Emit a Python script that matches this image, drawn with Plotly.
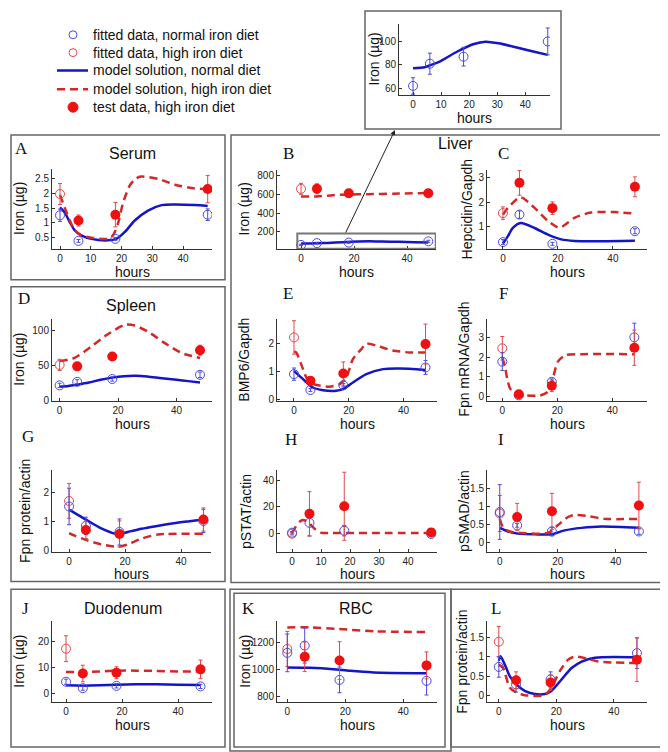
import plotly.graph_objects as go

# ---------------- DATA ----------------
T_PTS = [0, 6, 18, 48]
T_ZERO = [0]
T_TEST = [6, 18, 48]

# A  Serum iron
A_norm = [1.25, 0.37, 0.44, 1.27]; A_norm_err = [0.21, 0.05, 0.05, 0.2]
A_hfit = [1.98]; A_hfit_err = [0.36]
A_test = [1.07, 1.27, 2.15]; A_test_err = [0.19, 0.42, 0.47]
A_tn = [0, 1.5, 3.2, 4.8, 6.9, 10.2, 15.6, 18.3, 21, 24.3, 28.6, 33, 37.3, 43.8, 48]
A_mn = [1.52, 1.35, 1.01, 0.73, 0.56, 0.44, 0.39, 0.44, 0.67, 1.07, 1.41, 1.6, 1.62, 1.6, 1.57]
A_th = [0, 1.5, 3.2, 4.8, 6.9, 10.2, 15.6, 17.2, 18.8, 20.4, 22.6, 24.5, 26.3, 31.9, 37.3, 43.8, 48]
A_mh = [1.95, 1.52, 1.07, 0.73, 0.56, 0.48, 0.44, 0.56, 0.95, 1.64, 2.26, 2.5, 2.58, 2.5, 2.3, 2.17, 2.15]

# B  Liver iron
B_norm = [62, 81, 87, 100]; B_norm_err = [7, 9, 8, 11.5]
B_hfit = [657]; B_hfit_err = [58]
B_test = [657, 611, 611]; B_test_err = [53, 40, 35]
B_tn = [0, 4.1, 5.9, 10, 15.8, 21.7, 25.8, 30.5, 37, 42.8, 48]
B_mn = [77, 78, 79.5, 83.5, 91.4, 97.8, 99.8, 98.4, 94.8, 91.4, 88.5]
B_th = [0, 6, 12, 18, 25, 35, 48]
B_mh = [576, 576, 590, 597, 600, 606, 612]

# C  Hepcidin
C_norm = [0.39, 1.5, 0.32, 0.83]; C_norm_err = [0.1, 0.15, 0.06, 0.1]
C_hfit = [1.56]; C_hfit_err = [0.25]
C_test = [2.78, 1.76, 2.62]; C_test_err = [0.5, 0.25, 0.4]
C_tn = [0, 1.8, 3.6, 6.4, 11.5, 16.4, 21.2, 26, 34.5, 48]
C_mn = [0.33, 0.63, 0.96, 1.16, 0.96, 0.69, 0.5, 0.44, 0.43, 0.45]
C_th = [0, 1.8, 6.4, 11.5, 16.4, 20.6, 26, 32, 40.6, 48]
C_mh = [1.5, 1.77, 2.2, 1.77, 1.24, 0.97, 1.37, 1.58, 1.6, 1.54]

# D  Spleen iron
D_norm = [22, 27, 31, 37]; D_norm_err = [3, 3, 3, 4]
D_hfit = [51]; D_hfit_err = [8]
D_test = [49, 63, 72]; D_test_err = [4, 5, 7]
D_tn = [0, 3, 6, 10, 14, 18, 22, 26, 30, 35, 40, 44, 48]
D_mn = [20, 21, 23, 26, 30, 33, 35, 35.5, 34.5, 32, 30, 28, 26]
D_th = [0, 5.1, 10.8, 16.6, 22.3, 25.7, 30.3, 36, 41.7, 48]
D_mh = [56.6, 61, 77, 95, 108, 107, 98, 82, 68, 61]

# E  BMP6
E_norm = [0.9, 0.33, 0.5, 1.14]; E_norm_err = [0.22, 0.05, 0.06, 0.25]
E_hfit = [2.22]; E_hfit_err = [0.6]
E_test = [0.66, 0.92, 1.98]; E_test_err = [0.1, 0.42, 0.72]
E_tn = [0, 3.3, 6.9, 10.6, 15.4, 17.9, 21.5, 26.4, 32.5, 38.6, 48]
E_mn = [1.02, 0.72, 0.42, 0.32, 0.3, 0.36, 0.6, 0.9, 1.08, 1.1, 1.05]
E_th = [0, 0.8, 2.6, 4.5, 6.3, 9.3, 13, 16.7, 19.1, 21.5, 24.6, 26.4, 29.9, 36, 42.1, 48]
E_mh = [1.72, 1.68, 1.26, 0.78, 0.57, 0.49, 0.45, 0.54, 0.78, 1.44, 1.8, 2.0, 1.93, 1.75, 1.68, 1.68]

# F  Fpn mRNA
F_norm = [1.78, 0.06, 0.75, 3.02]; F_norm_err = [0.45, 0.04, 0.15, 0.72]
F_hfit = [2.46]; F_hfit_err = [0.6]
F_test = [0.12, 0.55, 2.49]; F_test_err = [0.06, 0.3, 0.9]
F_th = [0, 1, 1.8, 2.7, 4, 5.5, 8.8, 13.6, 16.6, 18.4, 20.2, 23.2, 29.3, 48]
F_mh = [2.0, 1.5, 0.9, 0.45, 0.2, 0.1, 0.05, 0.05, 0.25, 0.93, 1.78, 2.12, 2.16, 2.16]

# G  Spleen Fpn protein
G_norm = [1.53, 0.86, 0.65, 1.03]; G_norm_err = [0.63, 0.3, 0.45, 0.4]
G_hfit = [1.72]; G_hfit_err = [0.6]
G_test = [0.72, 0.58, 1.08]; G_test_err = [0.3, 0.45, 0.4]
G_tn = [0, 3, 6.8, 11.5, 15, 17.5, 21, 25.9, 31, 37.4, 43, 48]
G_mn = [1.42, 1.25, 1.03, 0.77, 0.63, 0.57, 0.65, 0.76, 0.85, 0.95, 1.02, 1.08]
G_th = [0, 2, 6.8, 11.5, 17.5, 21, 25.9, 31.8, 48]
G_mh = [0.61, 0.52, 0.35, 0.22, 0.14, 0.22, 0.42, 0.56, 0.59]

# H  pSTAT
H_norm = [0.3, 7.8, 1.8, -0.7]; H_norm_err = [1, 10, 4, 1]
H_hfit = [-0.5]; H_hfit_err = [1]
H_test = [14.7, 20.5, 0.5]; H_test_err = [17, 26, 1]
H_th = [0, 1, 2.5, 3.8, 5.5, 7.8, 9.8, 14, 20, 30, 48]
H_mh = [0, 4, 8.5, 10, 8.4, 3.3, 0.3, 0, 0, 0, 0]

# I  pSMAD
I_norm = [0.84, 0.47, 0.3, 0.3]; I_norm_err = [0.76, 0.05, 0.12, 0.08]
I_hfit = [0.8]; I_hfit_err = [0.5]
I_test = [0.7, 0.86, 1.02]; I_test_err = [0.38, 0.5, 0.65]
I_tn = [0, 2.9, 6.3, 12.1, 17.8, 22.4, 28.2, 35.1, 48]
I_mn = [0.4, 0.3, 0.24, 0.22, 0.22, 0.33, 0.4, 0.44, 0.4]
I_th = [0, 1.1, 3.4, 7.4, 16.6, 20, 23.5, 25.8, 30.4, 36.2, 48]
I_mh = [0.65, 0.42, 0.3, 0.26, 0.26, 0.47, 0.7, 0.76, 0.73, 0.65, 0.65]

# J  Duodenum iron
J_norm = [4.5, 2.0, 2.9, 2.7]; J_norm_err = [1.0, 0.8, 0.8, 0.8]
J_hfit = [17.3]; J_hfit_err = [5]
J_test = [7.7, 8.0, 9.3]; J_test_err = [3.2, 2.3, 3.6]
J_tn = [0, 6, 12, 18, 25, 32, 40, 48]
J_mn = [3.1, 3.0, 3.1, 3.3, 3.5, 3.5, 3.3, 3.2]
J_th = [0, 6, 12, 18, 25, 32, 40, 48]
J_mh = [8.3, 8.2, 8.5, 8.8, 8.8, 8.7, 8.5, 8.5]

# K  RBC iron
K_norm = [1123, 1177, 922, 915]; K_norm_err = [140, 130, 95, 105]
K_hfit = [1152]; K_hfit_err = [130]
K_test = [1094, 1066, 1030]; K_test_err = [110, 140, 100]
K_tn = [0, 7.7, 15.9, 21.6, 29.7, 48]
K_mn = [1015, 1012, 1002, 990, 978, 972]
K_th = [0, 8, 18, 30, 48]
K_mh = [1312, 1312, 1300, 1283, 1278]

# L  Duodenum Fpn protein
L_norm = [0.74, 0.28, 0.41, 1.1]; L_norm_err = [0.27, 0.2, 0.2, 0.4]
L_hfit = [1.4]; L_hfit_err = [0.4]
L_test = [0.39, 0.33, 0.93]; L_test_err = [0.22, 0.2, 0.57]
L_tn = [0, 0.6, 2.1, 3.8, 6.1, 9, 12.5, 16, 18.3, 21.8, 25.3, 28.8, 33.4, 48]
L_mn = [0.9, 1.02, 0.8, 0.5, 0.28, 0.11, 0.03, 0.03, 0.11, 0.41, 0.71, 0.88, 0.98, 0.99]
L_th = [0, 1.5, 3.8, 6.1, 9, 16, 18.3, 21.2, 24.1, 26.4, 31, 34.5, 48]
L_mh = [0.8, 0.71, 0.2, 0.07, 0.0, 0.0, 0.2, 0.63, 0.93, 1.01, 0.95, 0.88, 0.84]

LEGEND_NAMES = ["fitted data, normal iron diet", "fitted data, high iron diet",
                "model solution, normal diet", "model solution, high iron diet",
                "test data, high iron diet"]

# ---------------- STYLE / LAYOUT ----------------
W, H = 668, 752
def px(x): return x / W
def py(y): return 1 - y / H

BLUE_LINE = '#1414c8'
RED_LINE = '#d42828'
BLUE_PT = '#4a4ae0'
RED_PT = '#e04a4a'
RED_FILL = '#f01010'
FONT = 'Liberation Sans, Arial, sans-serif'
SERIF = 'Liberation Serif, Times New Roman, serif'

PANELS = [
    dict(key='A', d=(A_norm, A_norm_err, A_hfit, A_hfit_err, A_test, A_test_err), mn=(A_tn, A_mn), mh=(A_th, A_mh),
         box=(44, 204, 162, 243), xr=[-2.6, 49.4], yr=[0.09, 2.85], xt=[0, 10, 20, 30, 40], yt=[0.5, 1, 1.5, 2, 2.5],
         yl='Iron (µg)', ylx=11),
    dict(key='B', d=(B_norm, B_norm_err, B_hfit, B_hfit_err, B_test, B_test_err), mn=(B_tn, B_mn), mh=(B_th, B_mh),
         box=(269, 428, 163, 243), xr=[-9.06, 50.9], yr=[18, 860], xt=[0, 20, 40], yt=[200, 400, 600, 800],
         yl='Iron (µg)', ylx=236),
    dict(key='C', d=(C_norm, C_norm_err, C_hfit, C_hfit_err, C_test, C_test_err), mn=(C_tn, C_mn), mh=(C_th, C_mh),
         box=(479, 639, 163, 243), xr=[-5.8, 52.4], yr=[0.11, 3.31], xt=[0, 20, 40], yt=[1, 2, 3],
         yl='Hepcidin/Gapdh', ylx=459),
    dict(key='D', d=(D_norm, D_norm_err, D_hfit, D_hfit_err, D_test, D_test_err), mn=(D_tn, D_mn), mh=(D_th, D_mh),
         box=(44, 204, 313, 396), xr=[-2.6, 52.1], yr=[0, 117], xt=[0, 20, 40], yt=[0, 50, 100],
         yl='Iron (µg)', ylx=11),
    dict(key='E', d=(E_norm, E_norm_err, E_hfit, E_hfit_err, E_test, E_test_err), mn=(E_tn, E_mn), mh=(E_th, E_mh),
         box=(269, 429, 313, 396), xr=[-6.2, 52.2], yr=[-0.06, 2.9], xt=[0, 20, 40], yt=[0, 1, 2],
         yl='BMP6/Gapdh', ylx=236),
    dict(key='F', d=(F_norm, F_norm_err, F_hfit, F_hfit_err, F_test, F_test_err), mn=None, mh=(F_th, F_mh),
         box=(479, 639, 313, 396), xr=[-5.56, 52.6], yr=[-0.22, 3.98], xt=[0, 20, 40], yt=[0, 1, 2, 3],
         yl='Fpn mRNA/Gapdh', ylx=456),
    dict(key='G', d=(G_norm, G_norm_err, G_hfit, G_hfit_err, G_test, G_test_err), mn=(G_tn, G_mn), mh=(G_th, G_mh),
         box=(44, 203, 466, 548), xr=[-6.1, 50.7], yr=[-0.03, 2.78], xt=[0, 20, 40], yt=[0, 1, 2],
         yl='Fpn protein/actin', ylx=17),
    dict(key='H', d=(H_norm, H_norm_err, H_hfit, H_hfit_err, H_test, H_test_err), mn=None, mh=(H_th, H_mh),
         box=(269, 429, 466, 548), xr=[-5.2, 50], yr=[-14.2, 48], xt=[0, 10, 20, 30, 40], yt=[0, 20, 40],
         yl='pSTAT/actin', ylx=238),
    dict(key='I', d=(I_norm, I_norm_err, I_hfit, I_hfit_err, I_test, I_test_err), mn=(I_tn, I_mn), mh=(I_th, I_mh),
         box=(479, 639, 466, 548), xr=[-4.4, 50.8], yr=[-0.26, 2.0], xt=[0, 20, 40], yt=[0, 0.5, 1, 1.5],
         yl='pSMAD/actin', ylx=456),
    dict(key='J', d=(J_norm, J_norm_err, J_hfit, J_hfit_err, J_test, J_test_err), mn=(J_tn, J_mn), mh=(J_th, J_mh),
         box=(44, 204, 618, 700), xr=[-5, 52.1], yr=[-3.5, 28], xt=[0, 20, 40], yt=[0, 10, 20],
         yl='Iron (µg)', ylx=11),
    dict(key='K', d=(K_norm, K_norm_err, K_hfit, K_hfit_err, K_test, K_test_err), mn=(K_tn, K_mn), mh=(K_th, K_mh),
         box=(269, 429, 618, 700), xr=[-3.55, 51.6], yr=[755, 1359], xt=[0, 20, 40], yt=[800, 1000, 1200],
         yl='Iron (µg)', ylx=237),
    dict(key='L', d=(L_norm, L_norm_err, L_hfit, L_hfit_err, L_test, L_test_err), mn=(L_tn, L_mn), mh=(L_th, L_mh),
         box=(479, 639, 618, 700), xr=[-4.1, 51.5], yr=[-0.19, 1.94], xt=[0, 20, 40], yt=[0, 0.5, 1, 1.5],
         yl='Fpn protein/actin', ylx=454),
    dict(key='inset', d=(B_norm, B_norm_err, None, None, None, None), mn=(B_tn, B_mn), mh=None,
         box=(391, 542, 16, 88), xr=[-5, 48.8], yr=[54, 115], xt=[0, 10, 20, 30, 40], yt=[60, 80, 100],
         yl='Iron (µg)', ylx=366),
]

LETTERS = [('A', 13, 142), ('B', 280, 147), ('C', 495, 147), ('D', 16, 293), ('E', 280, 288), ('F', 495, 288),
           ('G', 20, 432), ('H', 283, 435), ('I', 493, 435), ('J', 17, 605), ('K', 240, 605), ('L', 488, 605)]
TITLES = [('Serum', 124, 147), ('Liver', 447, 137), ('Spleen', 123, 300), ('Duodenum', 115, 605), ('RBC', 348, 605)]
BOXES = [(3, 128, 217, 274), (3, 281, 217, 578), (3, 586, 217, 745), (223, 128, 663, 579),
         (222, 586, 443, 749), (226, 590, 437, 745), (443, 586, 663, 745), (357, 3, 553, 122)]
LEG_ROWS = [27, 45, 63, 82, 100]
LEG_MX, LEG_L0, LEG_L1, LEG_TX = 65, 49, 80, 83

fig = go.Figure()
layout = dict(width=W, height=H, margin=dict(l=0, r=0, t=0, b=0), paper_bgcolor='white',
              plot_bgcolor='rgba(0,0,0,0)', font=dict(family=FONT, color='#111'), showlegend=False)
annotations = []
shapes = []

def err(arr, color):
    return dict(type='data', array=arr, visible=True, color=color, thickness=1, width=2)

def text(x, y, s, size=14, family=FONT, xanchor='center', angle=0):
    return dict(x=px(x), y=py(y), xref='paper', yref='paper', text=s, showarrow=False, textangle=angle,
                xanchor=xanchor, yanchor='middle', font=dict(size=size, family=family, color='#111'))

for i, p in enumerate(PANELS, start=1):
    sx = '' if i == 1 else str(i)
    xa, ya = 'x' + sx, 'y' + sx
    l, r, t, b = p['box']
    axstyle = dict(showline=True, linecolor='#333', linewidth=1, ticks='inside', ticklen=3,
                   tickcolor='#333', showgrid=False, zeroline=False, tickfont=dict(size=10, color='#222'))
    layout['xaxis' + sx] = dict(domain=[px(l), px(r)], anchor=ya, range=p['xr'], tickvals=p['xt'], **axstyle)
    layout['yaxis' + sx] = dict(domain=[py(b), py(t)], anchor=xa, range=p['yr'], tickvals=p['yt'], **axstyle)
    norm, norm_e, hfit, hfit_e, test, test_e = p['d']
    if p['mn']:
        fig.add_trace(go.Scatter(x=p['mn'][0], y=p['mn'][1], mode='lines',
                                 line=dict(color=BLUE_LINE, width=2.5, shape='spline', smoothing=0.7),
                                 xaxis=xa, yaxis=ya, hoverinfo='skip'))
    if p['mh']:
        fig.add_trace(go.Scatter(x=p['mh'][0], y=p['mh'][1], mode='lines',
                                 line=dict(color=RED_LINE, width=2.5, dash='8px,5px', shape='spline', smoothing=0.7),
                                 xaxis=xa, yaxis=ya, hoverinfo='skip'))
    if hfit is not None:
        fig.add_trace(go.Scatter(x=T_ZERO, y=hfit, mode='markers', error_y=err(hfit_e, RED_PT),
                                 marker=dict(symbol='circle-open', size=9, color=RED_PT, line=dict(width=1)),
                                 xaxis=xa, yaxis=ya))
    fig.add_trace(go.Scatter(x=T_PTS, y=norm, mode='markers', error_y=err(norm_e, BLUE_PT),
                             marker=dict(symbol='circle-open', size=9, color=BLUE_PT, line=dict(width=1)),
                             xaxis=xa, yaxis=ya))
    if test is not None:
        fig.add_trace(go.Scatter(x=T_TEST, y=test, mode='markers', error_y=err(test_e, RED_PT),
                                 marker=dict(symbol='circle', size=10, color=RED_FILL),
                                 xaxis=xa, yaxis=ya))
    annotations.append(text(p['ylx'], (t + b) / 2, p['yl'], angle=-90))
    annotations.append(text((l + r) / 2, b + 23, 'hours'))

# legend (keys drawn as shapes, labels as text)
def circ(cx, cy, r, color, fill):
    return dict(type='circle', xref='paper', yref='paper', x0=px(cx - r), x1=px(cx + r), y0=py(cy + r), y1=py(cy - r),
                line=dict(color=color, width=1), fillcolor=color if fill else 'rgba(0,0,0,0)')
shapes.append(circ(LEG_MX, LEG_ROWS[0], 4, BLUE_PT, False))
shapes.append(circ(LEG_MX, LEG_ROWS[1], 4, RED_PT, False))
shapes.append(dict(type='line', xref='paper', yref='paper', x0=px(LEG_L0), x1=px(LEG_L1), y0=py(LEG_ROWS[2]), y1=py(LEG_ROWS[2]),
                   line=dict(color=BLUE_LINE, width=2.5)))
shapes.append(dict(type='line', xref='paper', yref='paper', x0=px(LEG_L0), x1=px(LEG_L1), y0=py(LEG_ROWS[3]), y1=py(LEG_ROWS[3]),
                   line=dict(color=RED_LINE, width=2.5, dash='8px,5px')))
shapes.append(circ(LEG_MX, LEG_ROWS[4], 5, RED_FILL, True))
for name, ry in zip(LEGEND_NAMES, LEG_ROWS):
    annotations.append(text(LEG_TX, ry, name, xanchor='left'))

for s, x, y in LETTERS:
    annotations.append(text(x, y, s, size=17, family=SERIF))
for s, x, y in TITLES:
    annotations.append(text(x, y, s, size=16))
for x0, y0, x1, y1 in BOXES:
    shapes.append(dict(type='rect', xref='paper', yref='paper', x0=px(x0), x1=px(x1), y0=py(y0), y1=py(y1),
                       line=dict(color='#666', width=1.5)))
shapes.append(dict(type='rect', xref='x2', yref='y2', x0=-1.4, x1=50.8, y0=20, y1=183,
                   line=dict(color='#777', width=2)))
annotations.append(dict(x=px(387), y=py(123), xref='paper', yref='paper', ax=-50, ay=104,
                        text='', showarrow=True, arrowhead=2, arrowsize=1, arrowwidth=1, arrowcolor='#222'))

layout['annotations'] = annotations
layout['shapes'] = shapes
fig.update_layout(**layout)
fig.write_html('out.html')
